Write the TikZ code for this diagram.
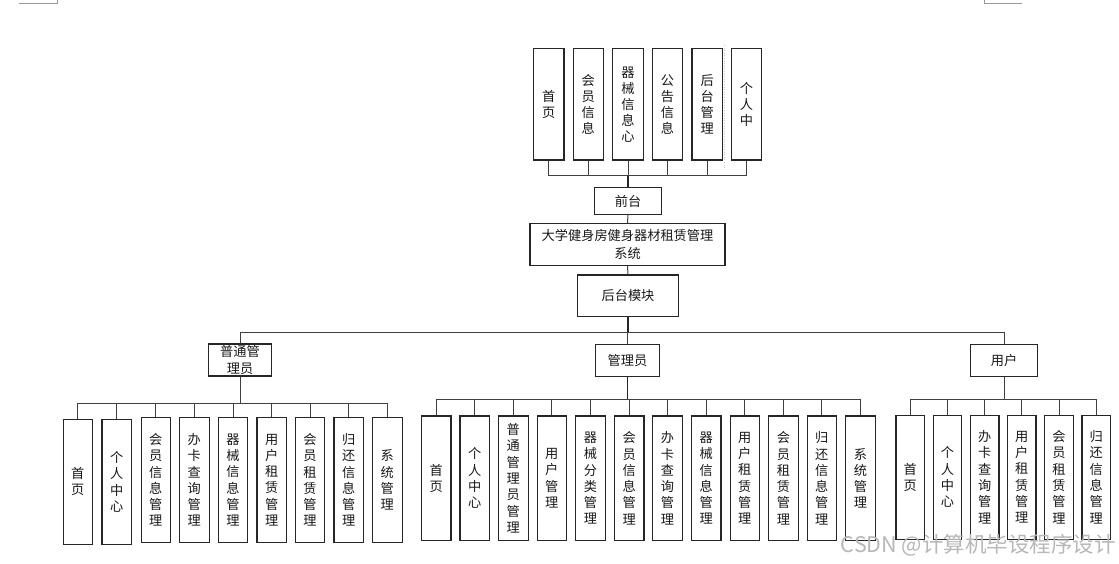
\documentclass[tikz,border=0pt]{standalone}
\usepackage{fontspec}
\newfontfamily\cjk{Noto Sans CJK SC}
\definecolor{boxc}{HTML}{262626}
\definecolor{linec}{HTML}{404040}
\begin{document}
\begin{tikzpicture}[x=1pt,y=-1pt,
  box/.style={draw=boxc, line width=1.1pt, inner sep=0pt, align=center,
    font=\cjk\fontsize{13.2}{16}\selectfont, text=black!90},
  topbox/.style={box, minimum width=30.5pt, minimum height=111.7pt},
  abox/.style={box, minimum width=29.5pt, minimum height=125.2pt, font=\cjk\fontsize{13.2}{16.3}\selectfont},
  bbox/.style={box, minimum width=29.5pt, minimum height=124.7pt, font=\cjk\fontsize{13.2}{16.3}\selectfont},
  cbox/.style={box, minimum width=28.4pt, minimum height=124.3pt, font=\cjk\fontsize{13.2}{16.3}\selectfont},
  conn/.style={draw=linec, line width=1pt},
  trunk/.style={draw=boxc, line width=1.8pt}]
\useasboundingbox (0,0) rectangle (1119,564);
\fill[white] (0,0) rectangle (1119,564);
% page corner marks
\draw[black!40, line width=0.8pt] (19.4,3) -- (57.4,3) -- (57.4,0);
\draw[black!40, line width=0.8pt] (1022,3) -- (984,3) -- (984,0);
\draw[black!20, dotted, line width=0.6pt] (724.3,45) -- (724.3,168);
% top row
\node[topbox] (t1) at (548.7,104.2) {首\\页};
\node[topbox] (t2) at (588.3,104.2) {会\\员\\信\\息};
\node[topbox] (t3) at (628.0,104.2) {器\\械\\信\\息\\心};
\node[topbox] (t4) at (667.5,104.2) {公\\告\\信\\息};
\node[topbox] (t5) at (707.2,104.2) {后\\台\\管\\理};
\node[topbox] (t6) at (746.5,104.2) {个\\人\\中};
\coordinate (tb) at (628,176);
\foreach \n in {t1,t2,t3,t4,t5,t6} \draw[conn] (\n.south) -- (\n.south |- tb);
\draw[conn] (t1.south |- tb) -- (t6.south |- tb);
% centre column
\node[box, minimum width=67.7pt, minimum height=26.6pt] (qt) at (628,201) {前台};
\draw[trunk] (qt.north) -- (qt.north |- tb);
\node[box, minimum width=195pt, minimum height=41.7pt, font=\cjk\fontsize{13.2}{17.5}\selectfont] (sys) at (627.5,244.2) {大学健身房健身器材租赁管理\\系统};
\draw[conn] (qt.south) -- (sys.north);
\node[box, minimum width=100.6pt, minimum height=41.7pt] (ht) at (628,295.8) {后台模块};
\draw[conn] (sys.south) -- (ht.north);
\coordinate (mb) at (628,332.7);
\draw[trunk] (ht.south) -- (ht.south |- mb);
% second level
\node[box, minimum width=63.4pt, minimum height=32pt, font=\cjk\fontsize{13.2}{17.7}\selectfont] (pt) at (240,360) {普通管\\理员};
\node[box, minimum width=63.6pt, minimum height=32.4pt] (gly) at (627.5,360.5) {管理员};
\node[box, minimum width=66.6pt, minimum height=31.7pt] (ut) at (1004,360.2) {用户};
\draw[conn] (pt.north) -- (pt.north |- mb) -- (ut.north |- mb) -- (ut.north);
\draw[conn] (gly.north) -- (gly.north |- mb);
% left group
\node[abox] (a1) at (77.8,481.8) {首\\页};
\node[abox] (a2) at (116.7,481.8) {个\\人\\中\\心};
\node[abox] (a3) at (155.8,480) {会\\员\\信\\息\\管\\理};
\node[abox] (a4) at (194.3,480) {办\\卡\\查\\询\\管\\理};
\node[abox] (a5) at (233.0,480) {器\\械\\信\\息\\管\\理};
\node[abox] (a6) at (271.7,480) {用\\户\\租\\赁\\管\\理};
\node[abox] (a7) at (310.0,480) {会\\员\\租\\赁\\管\\理};
\node[abox] (a8) at (348.7,480) {归\\还\\信\\息\\管\\理};
\node[abox] (a9) at (387.3,480) {系\\统\\管\\理};
\coordinate (ab) at (240,403.3);
\draw[conn] (pt.south) -- (pt.south |- ab);
\foreach \n in {a1,a2,a3,a4,a5,a6,a7,a8,a9} \draw[conn] (\n.north) -- (\n.north |- ab);
\draw[conn] (a1.north |- ab) -- (a9.north |- ab);
% middle group
\node[bbox] (b1) at (436.2,478.3) {首\\页};
\node[bbox] (b2) at (474.7,478.3) {个\\人\\中\\心};
\node[bbox] (b3) at (513.3,478.3) {普\\通\\管\\理\\员\\管\\理};
\node[bbox] (b4) at (551.8,478.3) {用\\户\\管\\理};
\node[bbox] (b5) at (590.5,478.3) {器\\械\\分\\类\\管\\理};
\node[bbox] (b6) at (629.2,478.3) {会\\员\\信\\息\\管\\理};
\node[bbox] (b7) at (667.5,478.3) {办\\卡\\查\\询\\管\\理};
\node[bbox] (b8) at (706.2,478.3) {器\\械\\信\\息\\管\\理};
\node[bbox] (b9) at (744.8,478.3) {用\\户\\租\\赁\\管\\理};
\node[bbox] (b10) at (783.5,478.3) {会\\员\\租\\赁\\管\\理};
\node[bbox] (b11) at (821.8,478.3) {归\\还\\信\\息\\管\\理};
\node[bbox] (b12) at (860.5,478.3) {系\\统\\管\\理};
\coordinate (bb) at (627.5,399.3);
\draw[trunk] (gly.south) -- (gly.south |- bb);
\foreach \n in {b1,b2,b3,b4,b5,b6,b7,b8,b9,b10,b11,b12} \draw[conn] (\n.north) -- (\n.north |- bb);
\draw[conn] (b1.north |- bb) -- (b12.north |- bb);
% right group
\node[cbox] (c1) at (910.2,477.2) {首\\页};
\node[cbox] (c2) at (947.5,477.2) {个\\人\\中\\心};
\node[cbox] (c3) at (984.8,477.2) {办\\卡\\查\\询\\管\\理};
\node[cbox] (c4) at (1021.8,477.2) {用\\户\\租\\赁\\管\\理};
\node[cbox] (c5) at (1059.0,477.2) {会\\员\\租\\赁\\管\\理};
\node[cbox] (c6) at (1096.2,477.2) {归\\还\\信\\息\\管\\理};
\coordinate (cb) at (1004,399.3);
\draw[conn] (ut.south) -- (ut.south |- cb);
\foreach \n in {c1,c2,c3,c4,c5,c6} \draw[conn] (\n.north) -- (\n.north |- cb);
\draw[conn] (c1.north |- cb) -- (c6.north |- cb);
% watermark
\node[anchor=east, inner sep=0pt, text=black!28, font=\cjk\fontsize{21.5}{24}\selectfont] (wm) at (1116,545) {CSDN @计算机毕设程序设计};
\end{tikzpicture}
\end{document}
